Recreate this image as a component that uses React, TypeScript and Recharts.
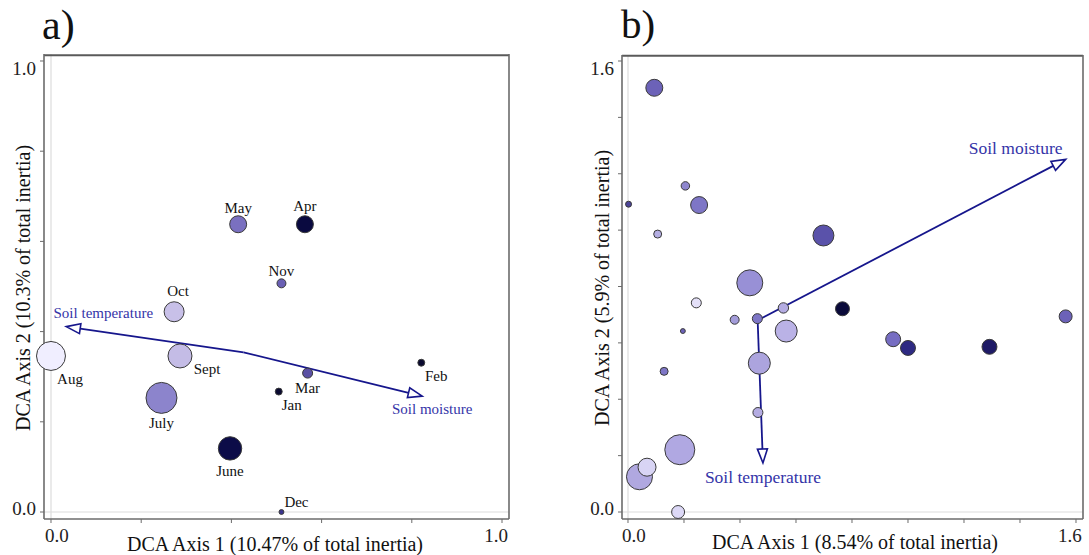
import React from "react";
import {
  ScatterChart,
  Scatter,
  XAxis,
  YAxis,
  ZAxis,
  ReferenceLine,
} from "recharts";

// ---- panel a: months ----
const monthsA = ["May", "Apr", "Nov", "Oct", "Aug", "Sept", "July", "June", "Mar", "Jan", "Feb", "Dec"];
const axis1A = [0.415, 0.563, 0.511, 0.273, 0.0, 0.286, 0.245, 0.397, 0.569, 0.505, 0.821, 0.511];
const axis2A = [0.638, 0.638, 0.507, 0.444, 0.346, 0.346, 0.253, 0.141, 0.308, 0.267, 0.331, 0.0];
const weightA = [72, 72, 20, 100, 210, 144, 240, 137, 25, 12, 12, 6];
const colorA = [
  "#7a70c0", "#0a0a40", "#6a60b4", "#c8c0e8", "#f0eeff", "#c4bce6",
  "#8c84cc", "#0c0c48", "#5a50a4", "#0a0a30", "#0a0a30", "#3a3490",
];
const ticksA = [0, 0.2, 0.4, 0.6, 0.8, 1.0];

// label offsets around each month bubble (px)
const monthLabelOffset: Record<string, [number, number]> = {
  May: [0, -17], Apr: [0, -19], Nov: [0, -13], Oct: [4, -21],
  Aug: [19, 23], Sept: [27, 13], July: [0, 25], June: [0, 22],
  Mar: [0, 15], Jan: [13, 13], Feb: [15, 13], Dec: [15, -10],
};

// ---- panel b: samples ----
const axis1B = [
  0.094, 0.205, 0.002, 0.254, 0.106, 0.698, 0.435, 0.244, 0.555, 0.766, 1.563, 0.381, 0.462,
  0.196, 0.565, 0.947, 1.0, 1.291, 0.129, 0.469, 0.464, 0.185, 0.041, 0.068, 0.179,
];
const axis2B = [
  1.505, 1.157, 1.092, 1.089, 0.986, 0.981, 0.813, 0.742, 0.724, 0.721, 0.694, 0.682, 0.686,
  0.642, 0.642, 0.613, 0.582, 0.586, 0.499, 0.528, 0.353, 0.221, 0.125, 0.159, 0.0,
];
const weightB = [72, 18, 9, 72, 16, 110, 169, 25, 27, 49, 42, 20, 25, 6, 121, 56, 56, 56, 16, 121, 25, 225, 169, 81, 42];
const colorB = [
  "#6c62b8", "#8e86ce", "#4c4498", "#7e76c6", "#b4aee2", "#5a52aa", "#9890d6", "#e4e0f8",
  "#b4ace2", "#0a0a3a", "#6c62b8", "#a39cd9", "#7e76c6", "#6c62b8", "#bab2e6", "#766dc2",
  "#2e2a82", "#1e1a66", "#7e76c6", "#aca4de", "#b4ace2", "#b0a8e2", "#b0a8e0", "#d8d4f4", "#dcd8f6",
];
const ticksB = [0, 0.2, 0.4, 0.6, 0.8, 1.0, 1.2, 1.4, 1.6];

// ---- environmental vectors ----
const vectorNames = ["Soil temperature", "Soil moisture"];
const originA = { x: 0.427, y: 0.354 };
const tipsA = [{ x: 0.034, y: 0.411 }, { x: 0.823, y: 0.257 }];
const originB = { x: 0.463, y: 0.68 };
const tipsB = [{ x: 0.482, y: 0.174 }, { x: 1.563, y: 1.251 }];

const vectorLabelA: Record<string, [number, number]> = {
  "Soil temperature": [37, -14],
  "Soil moisture": [10, 13],
};
const vectorLabelB: Record<string, [number, number]> = {
  "Soil temperature": [0, 14],
  "Soil moisture": [-50, -12],
};

const SERIF = "'Liberation Serif', 'Times New Roman', serif";
const AXIS_GRAY = "#6b6b6b";
const ARROW = "#16168c";
const VEC_TEXT = "#3434a8";

const dataA = monthsA.map((m, i) => ({ name: m, x: axis1A[i], y: axis2A[i], z: weightA[i], color: colorA[i] }));
const dataB = axis1B.map((v, i) => ({ name: `s${i + 1}`, x: v, y: axis2B[i], z: weightB[i], color: colorB[i] }));

const radiusOf = (p: any) => {
  if (typeof p.size === "number" && p.size > 0) return Math.sqrt(p.size / Math.PI);
  return Math.sqrt(p.payload?.z ?? 16);
};

const MonthBubble = (p: any) => {
  const r = radiusOf(p);
  const off = monthLabelOffset[p.payload.name] || [0, -14];
  return (
    <g>
      <circle cx={p.cx} cy={p.cy} r={r} fill={p.payload.color} stroke="#3a3a3a" strokeWidth={1} />
      <text
        x={p.cx + off[0]}
        y={p.cy + off[1]}
        dy="0.35em"
        textAnchor="middle"
        fontFamily={SERIF}
        fontSize={15}
        fill="#111"
      >
        {p.payload.name}
      </text>
    </g>
  );
};

const Bubble = (p: any) => (
  <circle cx={p.cx} cy={p.cy} r={radiusOf(p)} fill={p.payload.color} stroke="#3a3a3a" strokeWidth={1} />
);

const makeArrow = (name: string, labelOff: [number, number], fontSize: number) => (p: any) => {
  const { x1, y1, x2, y2 } = p;
  const dx = x2 - x1;
  const dy = y2 - y1;
  const len = Math.sqrt(dx * dx + dy * dy) || 1;
  const ux = dx / len;
  const uy = dy / len;
  const L = 14;
  const W = 5;
  const bx = x2 - ux * L;
  const by = y2 - uy * L;
  const pts = `${x2},${y2} ${bx - uy * W},${by + ux * W} ${bx + uy * W},${by - ux * W}`;
  return (
    <g>
      <line x1={x1} y1={y1} x2={bx} y2={by} stroke={ARROW} strokeWidth={1.8} />
      <polygon points={pts} fill="#fff" stroke={ARROW} strokeWidth={1.6} />
      <text
        x={x2 + labelOff[0]}
        y={y2 + labelOff[1]}
        dy="0.35em"
        textAnchor="middle"
        fontFamily={SERIF}
        fontSize={fontSize}
        fill={VEC_TEXT}
      >
        {name}
      </text>
    </g>
  );
};

// only the end ticks carry a label, nudged inwards
const makeXTick = (min: number, max: number) => (p: any) => {
  const v = p.payload.value;
  if (Math.abs(v - min) > 1e-9 && Math.abs(v - max) > 1e-9) return <g />;
  const shift = Math.abs(v - min) < 1e-9 ? 6 : -6;
  return (
    <text x={p.x + shift} y={p.y + 15} textAnchor="middle" fontFamily={SERIF} fontSize={19} fill="#222">
      {v.toFixed(1)}
    </text>
  );
};

const makeYTick = (min: number, max: number) => (p: any) => {
  const v = p.payload.value;
  if (Math.abs(v - min) > 1e-9 && Math.abs(v - max) > 1e-9) return <g />;
  const shift = Math.abs(v - max) < 1e-9 ? 7 : -4;
  return (
    <text x={p.x} y={p.y + shift} dy="0.35em" textAnchor="end" fontFamily={SERIF} fontSize={19} fill="#222">
      {v.toFixed(1)}
    </text>
  );
};

const domA: [number, number] = [-0.0155, 1.0155];
const domBx: [number, number] = [-0.0214, 1.625];
const domBy: [number, number] = [-0.0248, 1.6213];

const frameLine = { stroke: AXIS_GRAY, strokeWidth: 1.6 };

// top edge of the box, a little inside the domain so it is not dropped
const topEdge = (dx: [number, number], dy: [number, number]) => (
  <ReferenceLine
    segment={[{ x: dx[0], y: dy[1] - 0.003 }, { x: dx[1], y: dy[1] - 0.003 }]}
    stroke="#5a5a5a"
    strokeWidth={2}
    ifOverflow="visible"
  />
);

export default function App() {
  return (
    <div style={{ position: "absolute", left: 0, top: 0, width: 1089, height: 555, background: "#fff" }}>
      {/* panel a */}
      <div style={{ position: "absolute", left: 0, top: 0 }}>
        <ScatterChart width={540} height={555} margin={{ top: 54, right: 31, bottom: 6, left: 4 }}>
          <XAxis
            type="number"
            dataKey="x"
            domain={domA}
            ticks={ticksA}
            interval={0}
            height={30}
            tickSize={4}
            tickMargin={4}
            stroke={AXIS_GRAY}
            axisLine={frameLine}
            tick={makeXTick(0, 1)}
          />
          <YAxis
            type="number"
            dataKey="y"
            domain={domA}
            ticks={ticksA}
            interval={0}
            width={40}
            tickSize={4}
            tickMargin={4}
            stroke={AXIS_GRAY}
            axisLine={frameLine}
            tick={makeYTick(0, 1)}
          />
          <ZAxis type="number" dataKey="z" domain={[0, 300]} range={[0, 300 * Math.PI]} />
          <ReferenceLine x={0} stroke="#dcdcdc" strokeWidth={1.2} />
          <ReferenceLine y={0} stroke="#dcdcdc" strokeWidth={1.2} />
          {topEdge(domA, domA)}
          <ReferenceLine x={domA[1]} stroke={AXIS_GRAY} strokeWidth={1.6} ifOverflow="visible" />
          {tipsA.map((t, i) => (
            <ReferenceLine
              key={vectorNames[i]}
              segment={[originA, t]}
              shape={makeArrow(vectorNames[i], vectorLabelA[vectorNames[i]], 15)}
            />
          ))}
          <Scatter data={dataA} shape={MonthBubble} isAnimationActive={false} />
        </ScatterChart>
      </div>

      {/* panel b */}
      <div style={{ position: "absolute", left: 545, top: 0 }}>
        <ScatterChart width={544} height={555} margin={{ top: 55, right: 6, bottom: 6, left: 37 }}>
          <XAxis
            type="number"
            dataKey="x"
            domain={domBx}
            ticks={ticksB}
            interval={0}
            height={30}
            tickSize={4}
            tickMargin={4}
            stroke={AXIS_GRAY}
            axisLine={frameLine}
            tick={makeXTick(0, 1.6)}
          />
          <YAxis
            type="number"
            dataKey="y"
            domain={domBy}
            ticks={ticksB}
            interval={0}
            width={40}
            tickSize={4}
            tickMargin={4}
            stroke={AXIS_GRAY}
            axisLine={frameLine}
            tick={makeYTick(0, 1.6)}
          />
          <ZAxis type="number" dataKey="z" domain={[0, 300]} range={[0, 300 * Math.PI]} />
          <ReferenceLine x={0} stroke="#dcdcdc" strokeWidth={1.2} />
          <ReferenceLine y={0} stroke="#dcdcdc" strokeWidth={1.2} />
          {topEdge(domBx, domBy)}
          <ReferenceLine x={domBx[1]} stroke={AXIS_GRAY} strokeWidth={1.6} ifOverflow="visible" />
          {tipsB.map((t, i) => (
            <ReferenceLine
              key={vectorNames[i]}
              segment={[originB, t]}
              shape={makeArrow(vectorNames[i], vectorLabelB[vectorNames[i]], 17.5)}
            />
          ))}
          <Scatter data={dataB} shape={Bubble} isAnimationActive={false} />
        </ScatterChart>
      </div>

      {/* titles */}
      <svg
        width={1089}
        height={555}
        style={{ position: "absolute", left: 0, top: 0, pointerEvents: "none" }}
      >
        <g fontFamily={SERIF} fill="#111">
          <text x={42} y={39} fontSize={42}>a)</text>
          <text x={621} y={38} fontSize={41}>b)</text>
          <text x={275} y={551} fontSize={20} textAnchor="middle">DCA Axis 1 (10.47% of total inertia)</text>
          <text x={855} y={549} fontSize={20} textAnchor="middle">DCA Axis 1 (8.54% of total inertia)</text>
          <text transform="translate(30,288) rotate(-90)" fontSize={20} textAnchor="middle">
            DCA Axis 2 (10.3% of total inertia)
          </text>
          <text transform="translate(609,288) rotate(-90)" fontSize={20} textAnchor="middle">
            DCA Axis 2 (5.9% of total inertia)
          </text>
        </g>
      </svg>
    </div>
  );
}
